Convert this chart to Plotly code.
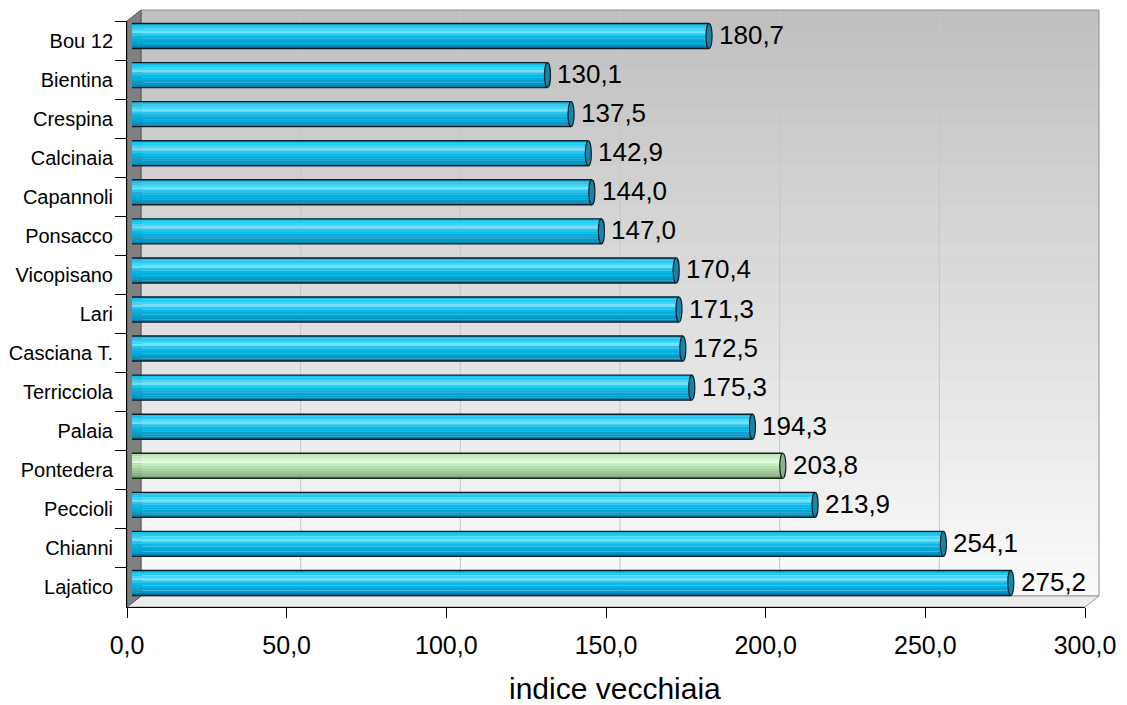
import plotly.graph_objects as go

# ---------------- data ----------------
categories = ["Bou 12", "Bientina", "Crespina", "Calcinaia", "Capannoli", "Ponsacco",
              "Vicopisano", "Lari", "Casciana T.", "Terricciola", "Palaia", "Pontedera",
              "Peccioli", "Chianni", "Lajatico"]
values = [180.7, 130.1, 137.5, 142.9, 144.0, 147.0, 170.4, 171.3, 172.5, 175.3,
          194.3, 203.8, 213.9, 254.1, 275.2]
highlighted = "Pontedera"
x_ticks = [0, 50, 100, 150, 200, 250, 300]
x_title = "indice vecchiaia"

# ---------------- geometry helpers (pixels -> paper) ----------------
W, H = 1127, 705
def px(x): return x / W
def py(y): return 1 - y / H

FX0, FX1 = 127, 1085      # front plane x (0 .. 300)
FY0, FY1 = 21, 607        # front plane y (top, bottom)
DX, DY = 14, -11          # depth offset to back wall
BX, BY = 5, -4.5          # bars sit at mid depth
XMAX = 300.0
n = len(categories)
idx = list(range(n))

FONT = "Liberation Sans, Arial, sans-serif"

cyan_stripes = ['#14bfe9', '#22cbf3', '#3fd8fb', '#70e0f9', '#22c6f0', '#04b8e8',
                '#00afde', '#00a5d3', '#0098c6', '#0084ac']
green_stripes = ['#b6e3b1', '#c6efc1', '#d4f6d0', '#e4fae1', '#c4ecbf', '#b4dfaf',
                 '#a8d3a3', '#9cc698', '#8eb78a', '#7ca578']

is_hi = [c == highlighted for c in categories]
h = 0.32
nst = len(cyan_stripes)

fig = go.Figure()

# cylinder body built from stacked stripes
for k in range(nst):
    fig.add_trace(go.Bar(
        x=values, y=idx, orientation="h",
        width=2 * h / nst, offset=-h + k * 2 * h / nst,
        marker=dict(color=[green_stripes[k] if g else cyan_stripes[k] for g in is_hi],
                    line=dict(width=0)),
        hoverinfo="skip", showlegend=False, xaxis="x", yaxis="y"))

# dummy trace for the category axis
fig.add_trace(go.Scatter(x=[0] * n, y=categories, mode="markers",
                         marker=dict(opacity=0), hoverinfo="skip",
                         showlegend=False, xaxis="x2", yaxis="y2"))

shapes = []
# back wall gradient
y_top, y_bot = FY0 + DY, FY1 + DY
nstrip = 60
c0, c1 = 0xbf, 0xfb
for s in range(nstrip):
    ya = y_top + (y_bot - y_top) * s / nstrip
    yb = y_top + (y_bot - y_top) * (s + 1) / nstrip + 0.6
    c = int(round(c0 + (c1 - c0) * (s + 0.5) / nstrip))
    col = f"rgb({c},{c},{c})"
    shapes.append(dict(type="rect", xref="paper", yref="paper", layer="below",
                       x0=px(FX0 + DX), x1=px(FX1 + DX), y0=py(ya), y1=py(min(yb, y_bot)),
                       fillcolor=col, line=dict(width=0)))

def xpix(v):
    return FX0 + (FX1 - FX0) * v / XMAX

# gridlines on back wall and floor
for t in x_ticks[1:-1]:
    xb = xpix(t) + DX
    shapes.append(dict(type="line", xref="paper", yref="paper", layer="below",
                       x0=px(xb), x1=px(xb), y0=py(y_top), y1=py(y_bot),
                       line=dict(color="#c6c6c6", width=1)))
    shapes.append(dict(type="line", xref="paper", yref="paper", layer="below",
                       x0=px(xpix(t)), x1=px(xb), y0=py(FY1), y1=py(y_bot),
                       line=dict(color="#c6c6c6", width=1)))

# back wall border
shapes.append(dict(type="rect", xref="paper", yref="paper", layer="below",
                   x0=px(FX0 + DX), x1=px(FX1 + DX), y0=py(y_top), y1=py(y_bot),
                   fillcolor="rgba(0,0,0,0)", line=dict(color="#8a8a8a", width=1)))

# floor
shapes.append(dict(type="path", xref="paper", yref="paper", layer="below",
                   path=f"M {px(FX0)},{py(FY1)} L {px(FX0+DX)},{py(y_bot)} L {px(FX1+DX)},{py(y_bot)} L {px(FX1)},{py(FY1)} Z",
                   fillcolor="#ececec", line=dict(color="#9a9a9a", width=1)))
# left wall
shapes.append(dict(type="path", xref="paper", yref="paper", layer="below",
                   path=f"M {px(FX0)},{py(FY0)} L {px(FX0+DX)},{py(y_top)} L {px(FX0+DX)},{py(y_bot)} L {px(FX0)},{py(FY1)} Z",
                   fillcolor="#808080", line=dict(color="#555555", width=1)))

# bar caps and outlines (data coordinates)
r = 0.95
for i, v in enumerate(values):
    g = is_hi[i]
    mid = "#b0d8aa" if g else "#0aaedb"
    capc = "#8fb28c" if g else "#1a83a6"
    edge = "#14241a" if g else "#0a1f2e"
    a, b = i - h, i + h
    shapes.append(dict(type="path", xref="x", yref="y", layer="above",
                       path=f"M 0,{a} C {-1.33*r},{a} {-1.33*r},{b} 0,{b} Z",
                       fillcolor=mid, line=dict(width=0)))
    shapes.append(dict(type="path", xref="x", yref="y", layer="above",
                       path=f"M {v},{a} L 0,{a} C {-1.33*r},{a} {-1.33*r},{b} 0,{b} L {v},{b}",
                       fillcolor="rgba(0,0,0,0)", line=dict(color=edge, width=1.4)))
    shapes.append(dict(type="circle", xref="x", yref="y", layer="above",
                       x0=v - r, x1=v + r, y0=a, y1=b,
                       fillcolor=capc, line=dict(color=edge, width=1.2)))

annotations = []
for i, v in enumerate(values):
    annotations.append(dict(x=v, y=i, xref="x", yref="y", showarrow=False,
                            text=f"{v:.1f}".replace(".", ","),
                            xanchor="left", yanchor="middle", xshift=8, yshift=1,
                            font=dict(family=FONT, size=26, color="#000000")))
annotations.append(dict(x=px(615), y=py(688), xref="paper", yref="paper",
                        showarrow=False, text=x_title, xanchor="center", yanchor="middle",
                        font=dict(family=FONT, size=30, color="#000000")))

fig.update_layout(
    width=W, height=H,
    margin=dict(l=0, r=0, t=0, b=0, autoexpand=False),
    paper_bgcolor="white", plot_bgcolor="rgba(0,0,0,0)",
    barmode="overlay", separators=",.",
    font=dict(family=FONT, color="#000000"),
    showlegend=False,
    xaxis=dict(domain=[px(FX0 + BX), px(FX1 + BX)], range=[0, XMAX], visible=False,
               fixedrange=True, automargin=False),
    yaxis=dict(domain=[py(FY1 + BY), py(FY0 + BY)], range=[n - 0.5, -0.5], visible=False,
               anchor="x", fixedrange=True, automargin=False),
    xaxis2=dict(domain=[px(FX0), px(FX1)], range=[0, XMAX], anchor="y2",
                tickmode="array", tickvals=x_ticks, tickformat=".1f",
                ticks="outside", ticklen=10, tickcolor="#000000", tickwidth=1,
                showline=True, linecolor="#000000", linewidth=1,
                showgrid=False, zeroline=False, ticklabelstandoff=6, automargin=False,
                tickfont=dict(family=FONT, size=25, color="#000000")),
    yaxis2=dict(domain=[py(FY1), py(FY0)], anchor="x2", type="category",
                categoryorder="array", categoryarray=categories,
                range=[n - 0.5, -0.5], ticks="outside", tickson="boundaries",
                ticklen=11, tickcolor="#000000", tickwidth=1,
                showline=True, linecolor="#000000", linewidth=1,
                showgrid=False, zeroline=False, automargin=False,
                ticklabelstandoff=9,
                tickfont=dict(family=FONT, size=20, color="#000000")),
    shapes=shapes, annotations=annotations,
)

fig.write_html("out.html")
